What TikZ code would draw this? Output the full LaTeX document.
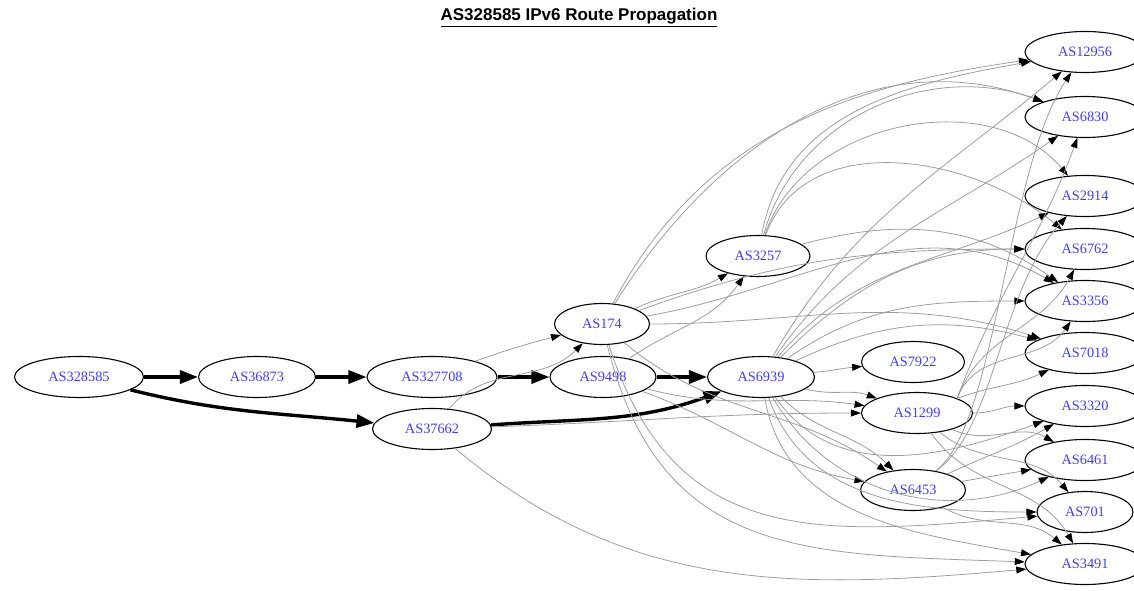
\documentclass[tikz,border=0pt]{standalone}
\usepackage{fontspec}
\setmainfont{Liberation Serif}
\newfontfamily\titlefont{Liberation Sans}
\usetikzlibrary{shapes.geometric,arrows.meta}
\definecolor{aslabel}{RGB}{64,64,240}

\begin{document}
\begin{tikzpicture}[x=1pt,y=1pt,
  asnode/.style={draw,ellipse,line width=1.1pt,inner sep=0pt,
    minimum height=41pt,text=aslabel,font=\fontsize{14.3}{16}\selectfont},
  bestroute/.style={line width=3.4pt,-{Triangle[length=18pt,width=13pt]}},
  altroute/.style={black!38,line width=0.8pt,
    -{Triangle[length=10pt,width=7pt,color=black]}}]

\useasboundingbox (0,0) rectangle (1134,590);

%=================================================
% TITLE
%=================================================

\node[anchor=base,font=\titlefont\bfseries\fontsize{17}{20}\selectfont]
(title) at (579,569)
{\underline{AS328585 IPv6 Route Propagation}};

%=================================================
% ORIGIN AND UPSTREAMS
%=================================================

\node[asnode,minimum width=129pt] (as328585) at (79,213) {AS328585};
\node[asnode,minimum width=117pt] (as36873) at (257,213) {AS36873};
\node[asnode,minimum width=130pt] (as327708) at (432,213) {AS327708};
\node[asnode,minimum width=119pt] (as37662) at (432,161) {AS37662};
\node[asnode,minimum width=95pt] (as174) at (602,266) {AS174};
\node[asnode,minimum width=106pt] (as9498) at (603,213) {AS9498};
\node[asnode,minimum width=104pt] (as3257) at (758,334) {AS3257};
\node[asnode,minimum width=107pt] (as6939) at (761,213) {AS6939};
\node[asnode,minimum width=103pt] (as7922) at (913,228) {AS7922};
\node[asnode,minimum width=111pt] (as1299) at (917,177) {AS1299};
\node[asnode,minimum width=105pt] (as6453) at (913,100) {AS6453};

%=================================================
% RIGHT COLUMN
%=================================================

\foreach \as/\y in {12956/538,6830/473,2914/394,6762/341,3356/289,
                    7018/237,3320/184,6461/130,3491/26}
{
\node[asnode,minimum width=120pt] (as\as) at (1085,\y) {AS\as};
}
\node[asnode,minimum width=96pt] (as701) at (1085,78) {AS701};

%=================================================
% BEST PATH
%=================================================

\draw[bestroute] (as328585) -- (as36873);
\draw[bestroute] (as36873) -- (as327708);
\draw[bestroute] (as327708) -- (as9498);
\draw[bestroute] (as9498) -- (as6939);
\draw[bestroute] (as328585) to[out=-14,in=174] (as37662);
\draw[bestroute] (as37662) to[out=4,in=200] (as6939);

%=================================================
% OTHER PATHS
%=================================================

\draw[altroute] (as327708) to[out=20,in=195] (as174);
\draw[altroute] (as37662) to[out=50,in=225] (as174);
\draw[altroute] (as37662) to[out=2,in=180] (as1299);
\draw[altroute] (as37662) to[out=-40,in=185] (as3491);

\draw[altroute] (as9498) to[out=35,in=235] (as3257);
\draw[altroute] (as9498) to[out=-15,in=172] (as1299);
\draw[altroute] (as9498) to[out=-20,in=170] (as6453);

% AS174
\foreach \dest/\o/\i in {as3257/25/210, as12956/62/188, as6830/58/160,
                         as6762/20/180, as3356/10/150, as7018/0/162,
                         as6453/-40/145}
{
\draw[altroute] (as174) to[out=\o,in=\i] (\dest);
}
\draw[altroute] (as174) to[out=-72,in=185,looseness=1.2] (as701);
\draw[altroute] (as174) to[out=-76,in=178,looseness=1.2] (as3491);

% AS3257
\foreach \dest/\o/\i in {as12956/80/190, as6830/75/160, as2914/72/130,
                         as6762/70/140, as3356/15/145}
{
\draw[altroute] (as3257) to[out=\o,in=\i] (\dest);
}

% AS6939
\foreach \dest/\o/\i in {as7922/5/185, as1299/-15/160, as6453/-45/135,
                         as12956/60/220, as6830/55/215, as2914/50/205,
                         as6762/45/180, as3356/35/180, as7018/25/165,
                         as3320/-55/200, as6461/-60/205, as701/-70/180,
                         as3491/-80/170}
{
\draw[altroute] (as6939) to[out=\o,in=\i] (\dest);
}

% AS1299
\foreach \dest/\o/\i in {as3320/0/180, as6461/-25/150, as701/-40/130,
                         as3491/-55/120, as7018/20/205}
{
\draw[altroute] (as1299) to[out=\o,in=\i] (\dest);
}
\foreach \dest/\i in {as3356/235, as6762/242, as6830/250}
{
\draw[altroute] (as1299.20) to[out=70,in=\i] (\dest);
}

% AS6453
\foreach \dest/\o/\i in {as6461/10/190, as3320/25/210, as3491/-30/140}
{
\draw[altroute] (as6453) to[out=\o,in=\i] (\dest);
}
\draw[altroute] (as6453.40) .. controls (995,160) and (1000,300) .. (as2914);
\draw[altroute] (as6453.40) .. controls (997,165) and (1006,420) .. (as12956);

\end{tikzpicture}
\end{document}
